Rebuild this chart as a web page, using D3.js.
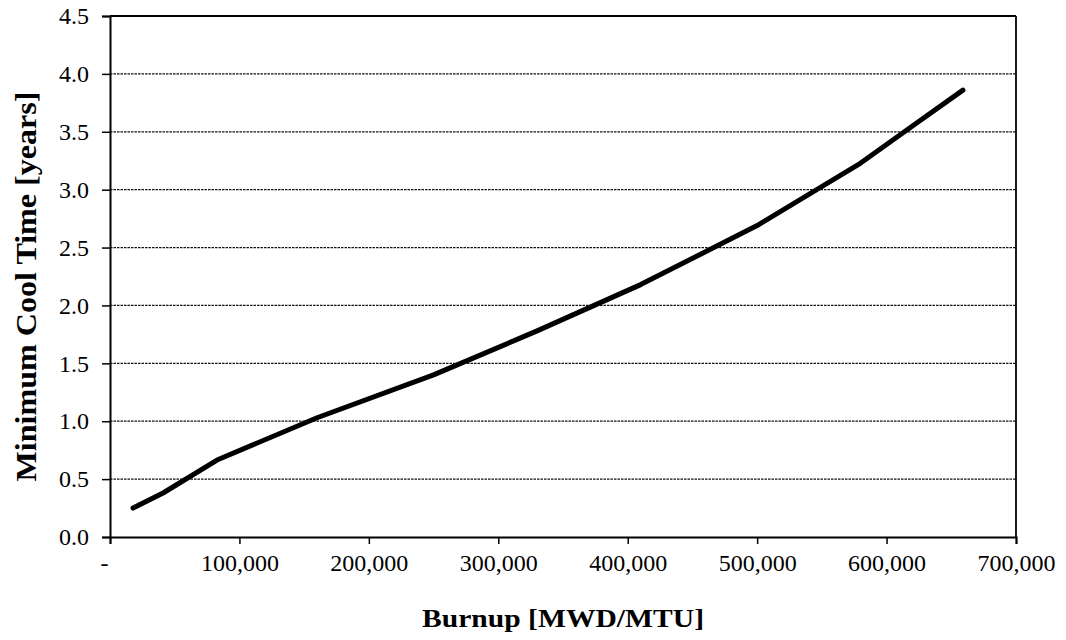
<!DOCTYPE html>
<html>
<head>
<meta charset="utf-8">
<script src="https://cdn.jsdelivr.net/npm/d3@7"></script>
<style>
  body { margin: 0; background: #fff; }
  svg { display: block; }
  text { font-family: "Liberation Serif", "Times New Roman", serif; fill: #000; }
</style>
</head>
<body>
<svg id="chart" width="1066" height="640"></svg>
<script>
// Data
const burnup = [17800, 41000, 82700, 160000, 250000, 330000, 410000, 500000, 580000, 620000, 659000];
const coolTime = [0.25, 0.38, 0.665, 1.03, 1.40, 1.78, 2.18, 2.69, 3.23, 3.55, 3.86];
const xTicks = [0, 100000, 200000, 300000, 400000, 500000, 600000, 700000];
const yTicks = [0, 0.5, 1.0, 1.5, 2.0, 2.5, 3.0, 3.5, 4.0, 4.5];
const xTitle = "Burnup [MWD/MTU]";
const yTitle = "Minimum Cool Time [years]";

const svg = d3.select("#chart");
const m = { left: 110, right: 1016, top: 16, bottom: 537 };

const x = d3.scaleLinear().domain([0, 700000]).range([m.left, m.right]);
const y = d3.scaleLinear().domain([0, 4.5]).range([m.bottom, m.top]);

// gridlines
svg.append("g")
  .selectAll("line")
  .data(yTicks.filter(d => d > 0 && d < 4.5))
  .join("line")
  .attr("x1", m.left).attr("x2", m.right)
  .attr("y1", d => y(d)).attr("y2", d => y(d))
  .attr("stroke", "#111")
  .attr("stroke-width", 1.3)
  .attr("stroke-dasharray", "2.5,1");

// frame (top and right)
svg.append("line").attr("x1", m.left).attr("x2", m.right).attr("y1", m.top).attr("y2", m.top)
  .attr("stroke", "#000").attr("stroke-width", 1.8);
svg.append("line").attr("x1", m.right).attr("x2", m.right).attr("y1", m.top).attr("y2", m.bottom)
  .attr("stroke", "#000").attr("stroke-width", 1.8);

// axes
const fmt = d3.format(",");
const xAxis = d3.axisBottom(x).tickValues(xTicks).tickSize(7).tickPadding(10)
  .tickFormat(d => d === 0 ? "-" : fmt(d));
const gx = svg.append("g").attr("transform", `translate(0,${m.bottom})`).call(xAxis);
gx.select(".domain").attr("stroke", "#000").attr("stroke-width", 2);
gx.selectAll(".tick line").attr("stroke", "#000").attr("stroke-width", 1.5);
gx.selectAll(".tick text")
  .style("font-family", '"Liberation Serif", serif')
  .style("font-size", "24px")
  .attr("fill", "#000");
gx.selectAll(".tick text").filter(d => d === 0).attr("dx", -6);

const yAxis = d3.axisLeft(y).tickValues(yTicks).tickSize(8).tickPadding(13)
  .tickFormat(d3.format(".1f"));
const gy = svg.append("g").attr("transform", `translate(${m.left},0)`).call(yAxis);
gy.select(".domain").attr("stroke", "#000").attr("stroke-width", 2);
gy.selectAll(".tick line").attr("stroke", "#000").attr("stroke-width", 1.5);
gy.selectAll(".tick text")
  .style("font-family", '"Liberation Serif", serif')
  .style("font-size", "24px")
  .attr("fill", "#000");

// data line
const line = d3.line().x((d, i) => x(burnup[i])).y(d => y(d));
svg.append("path")
  .datum(coolTime)
  .attr("d", line)
  .attr("fill", "none")
  .attr("stroke", "#000")
  .attr("stroke-width", 5)
  .attr("stroke-linecap", "round")
  .attr("stroke-linejoin", "round");

// axis titles
svg.append("text")
  .attr("x", (m.left + m.right) / 2)
  .attr("y", 627)
  .attr("text-anchor", "middle")
  .attr("textLength", 282)
  .attr("lengthAdjust", "spacingAndGlyphs")
  .style("font-size", "25px")
  .style("font-weight", "bold")
  .text(xTitle);

svg.append("text")
  .attr("transform", `translate(36,${(m.top + m.bottom) / 2 + 10}) rotate(-90)`)
  .attr("text-anchor", "middle")
  .attr("textLength", 390)
  .attr("lengthAdjust", "spacingAndGlyphs")
  .style("font-size", "29px")
  .style("font-weight", "bold")
  .text(yTitle);
</script>
</body>
</html>
